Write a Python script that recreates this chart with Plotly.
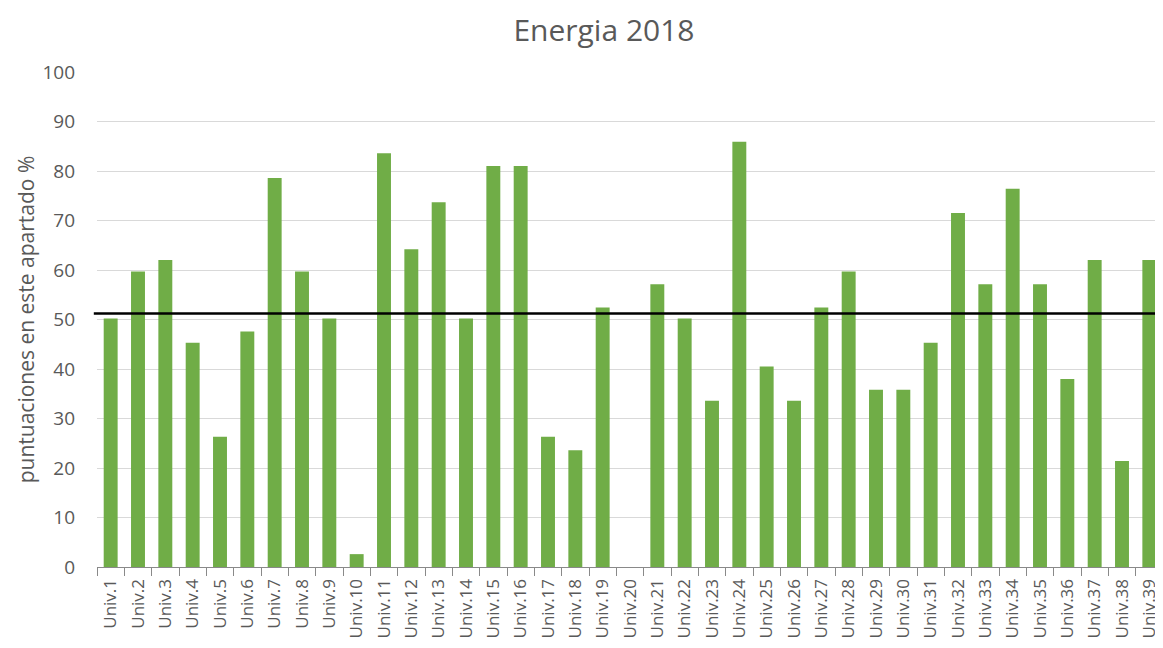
import plotly.graph_objects as go

categories = [f"Univ.{i}" for i in range(1, 40)]
values = [50.2, 59.7, 62.0, 45.3, 26.3, 47.6, 78.6, 59.7, 50.2, 2.6,
          83.6, 64.2, 73.7, 50.2, 81.0, 81.0, 26.3, 23.6, 52.4, 0.0,
          57.1, 50.2, 33.6, 85.9, 40.5, 33.6, 52.4, 59.7, 35.8, 35.8,
          45.3, 71.5, 57.1, 76.4, 57.1, 38.0, 62.0, 21.4, 62.0]
average = 51.2
y_ticks = [0, 10, 20, 30, 40, 50, 60, 70, 80, 90, 100]

fig = go.Figure()
fig.add_trace(go.Bar(x=categories, y=values, marker_color="#70ad47",
                     marker_line_width=0, showlegend=False))
fig.add_shape(type="line", xref="paper", yref="y", x0=-0.003, x1=1,
              y0=average, y1=average, line=dict(color="black", width=2.5))

fig.update_layout(
    width=1155, height=640,
    margin=dict(l=89, r=0, t=64, b=81),
    paper_bgcolor="white", plot_bgcolor="white",
    bargap=0.49,
    font=dict(family="Open Sans, Liberation Sans, sans-serif", color="#595959"),
    title=dict(text="Energia 2018", x=0.516, xanchor="center", y=1 - 22 / 640, yanchor="middle",
               font=dict(size=30, color="#595959")),
)
fig.update_yaxes(range=[0, 100], tickvals=y_ticks, showgrid=True, gridcolor="#d9d9d9",
                 gridwidth=1.3, zeroline=False, tickfont=dict(size=19),
                 ticklabelstandoff=21, automargin=False,
                 title=dict(text="puntuaciones en este apartado %", font=dict(size=21), standoff=2),
                 ticks="", showline=False)
fig.update_xaxes(tickangle=-90, tickfont=dict(size=17), showline=True, linecolor="#898989",
                 linewidth=1.3, ticks="outside", tickson="boundaries", ticklen=8,
                 ticklabelstandoff=4, automargin=False,
                 tickcolor="#898989", showgrid=False)

fig.write_html("out.html")
